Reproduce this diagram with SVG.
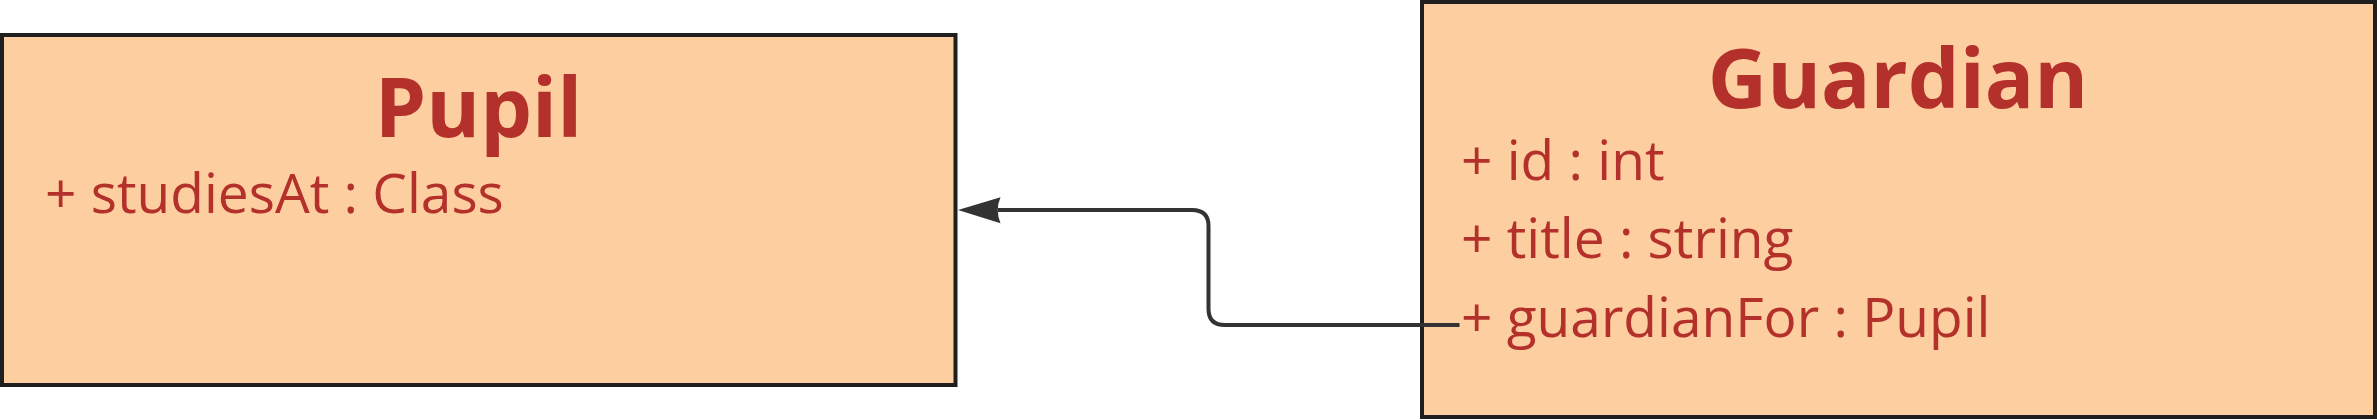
<svg xmlns="http://www.w3.org/2000/svg" width="2377" height="420" viewBox="0 0 2377 420">
<style>
.box{fill:#FDCE9F;stroke:#1F1F1F;stroke-width:4}
.title{font-family:"Open Sans","Liberation Sans",sans-serif;font-weight:bold;font-size:82px;fill:#B3302B;text-anchor:middle}
.attr{font-family:"Open Sans","Liberation Sans",sans-serif;font-size:55px;fill:#B3302B}
.conn{fill:none;stroke:#333333;stroke-width:4}
</style>
<rect width="2377" height="420" fill="#FFFFFF"/>
<g id="pupil">
<rect class="box" x="2" y="35" width="953.5" height="350"/>
<text class="title" x="478.5" y="137">Pupil</text>
<text class="attr" x="45" y="213">+ studiesAt : Class</text>
</g>
<g id="guardian">
<rect class="box" x="1422" y="2" width="953" height="415"/>
<text class="title" x="1898" y="108">Guardian</text>
<text class="attr" x="1461" y="180">+ id : int</text>
<text class="attr" x="1461" y="258">+ title : string</text>
<text class="attr" x="1461" y="337">+ guardianFor : Pupil</text>
</g>
<g id="connectors">
<path class="conn" d="M1459.5,325 L1225,325 Q1208.5,325 1208.5,309 L1208.5,226 Q1208.5,210 1192,210 L998,210"/>
<path d="M958,210 L1000.5,197.3 Q995,210 1000.5,223.3 Z" fill="#333333"/>
</g>
</svg>
